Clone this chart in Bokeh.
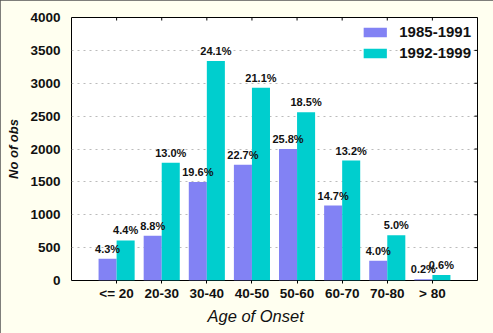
from bokeh.plotting import figure
from bokeh.models import (ColumnDataSource, FixedTicker, LinearAxis, Legend, LegendItem, Range1d, Title)
from bokeh.core.properties import value
from bokeh.embed import file_html
from bokeh.resources import INLINE

categories = ["<= 20", "20-30", "30-40", "40-50", "50-60", "60-70", "70-80", "> 80"]
series_names = ["1985-1991", "1992-1999"]
obs_1985_1991 = [330, 680, 1500, 1760, 2000, 1140, 300, 20]
obs_1992_1999 = [610, 1790, 3340, 2930, 2560, 1825, 690, 85]
pct_1985_1991 = ["4.3%", "8.8%", "19.6%", "22.7%", "25.8%", "14.7%", "4.0%", "0.2%"]
pct_1992_1999 = ["4.4%", "13.0%", "24.1%", "21.1%", "18.5%", "13.2%", "5.0%", "0.6%"]
y_ticks = [0, 500, 1000, 1500, 2000, 2500, 3000, 3500, 4000]

FONT = "Liberation Sans"
PURPLE = "#8282F4"
CYAN = "#00CECE"
TXT = "#111111"

xpos = list(range(1, len(categories) + 1))
x_max = len(categories) + 1
y_max = y_ticks[-1]
bw = 0.4
src1 = ColumnDataSource(dict(x=[x - bw / 2 for x in xpos], top=obs_1985_1991, lab=pct_1985_1991))
src2 = ColumnDataSource(dict(x=[x + bw / 2 for x in xpos], top=obs_1992_1999, lab=pct_1992_1999))

p = figure(width=493, height=333, output_backend="svg", toolbar_location=None,
           x_range=Range1d(0, x_max), y_range=Range1d(0, y_max),
           x_axis_location=None, y_axis_location=None)
p.min_border_left = 71
p.min_border_right = 16
p.min_border_top = 17
p.min_border_bottom = 53
p.border_fill_color = "#FFFFF0"
p.background_fill_color = "white"
p.outline_line_color = "black"
p.outline_line_width = 1
p.styles = {"outline": "1px solid #555555", "outline-offset": "-1px"}

p.xgrid.visible = False
p.ygrid.ticker = FixedTicker(ticks=y_ticks)
p.ygrid.grid_line_color = "#BBBBBB"
p.ygrid.grid_line_dash = "dotted"

r1 = p.vbar(x="x", top="top", width=bw, source=src1, fill_color=PURPLE, line_color=None)
r2 = p.vbar(x="x", top="top", width=bw, source=src2, fill_color=CYAN, line_color=None)

for src in (src1, src2):
    p.text(x="x", y="top", text="lab", source=src, text_align="center", text_baseline="bottom",
           y_offset=-4, text_font_size="11px", text_font_style="bold", text_color=TXT,
           text_font=value(FONT))

# inward tick marks on top and right frame edges (half of each dash is clipped by the frame)
p.scatter(x=xpos, y=[y_max] * len(xpos), marker="dash", angle=1.5708, size=6,
          line_color="black", line_width=1)
p.scatter(x=[x_max] * len(y_ticks), y=y_ticks, marker="dash", size=6,
          line_color="black", line_width=1)

# axes
yax = LinearAxis(ticker=FixedTicker(ticks=y_ticks))
yax.axis_line_color = None
yax.major_tick_in = 0
yax.major_tick_out = 0
yax.minor_tick_line_color = None
yax.major_label_text_font = FONT
yax.major_label_text_font_size = "13.5px"
yax.major_label_text_font_style = "bold"
yax.major_label_text_color = TXT
yax.major_label_standoff = 11
yax.axis_label = "No of obs"
yax.axis_label_text_font = FONT
yax.axis_label_text_font_size = "13px"
yax.axis_label_text_font_style = "bold italic"
yax.axis_label_text_color = TXT
yax.axis_label_standoff = 6
p.add_layout(yax, "left")

xax = LinearAxis(ticker=FixedTicker(ticks=xpos))
xax.major_label_overrides = {i + 1: c for i, c in enumerate(categories)}
xax.axis_line_color = None
xax.major_tick_in = 0
xax.major_tick_out = 3
xax.minor_tick_line_color = None
xax.major_label_text_font = FONT
xax.major_label_text_font_size = "13.5px"
xax.major_label_text_font_style = "bold"
xax.major_label_text_color = TXT
xax.major_label_standoff = 2
p.add_layout(xax, "below")

xtitle = Title(text="Age of Onset", align="left", offset=136, standoff=2,
               text_font=FONT, text_font_size="16.5px", text_font_style="italic", text_color=TXT)
p.add_layout(xtitle, "below")

legend = Legend(items=[LegendItem(label=series_names[0], renderers=[r1]),
                       LegendItem(label=series_names[1], renderers=[r2])],
                location="top_right")
legend.border_line_color = None
legend.background_fill_alpha = 0
legend.margin = 6
legend.padding = 12
legend.spacing = 4
legend.glyph_width = 29
legend.glyph_height = 12
legend.label_height = 12
legend.label_standoff = 10
legend.label_text_font = FONT
legend.label_text_font_size = "15px"
legend.label_text_font_style = "bold"
legend.label_text_color = TXT
p.add_layout(legend)

open("out.html", "w").write(file_html(p, INLINE))
